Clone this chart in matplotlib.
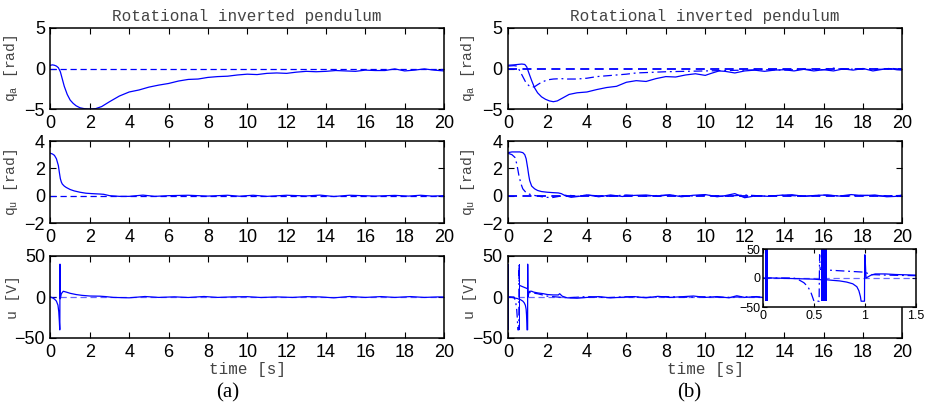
import matplotlib
matplotlib.use("Agg")
import matplotlib.pyplot as plt

# ---------------- data ----------------
# reference (dashed) lines
t_ref = [0, 20]
ref = [0, 0]

# (a) q_a
t_qa_a = [0, 0.1, 0.2, 0.3, 0.4, 0.5, 0.6, 0.7, 0.85, 1.0, 1.15, 1.3, 1.5, 1.7, 1.9, 2.1, 2.3,
          2.6, 3.0, 3.5, 4.0, 4.5, 5.0, 5.5, 6.0, 6.5, 7.0, 7.5, 8.0, 8.5, 9.0, 9.5, 10.0,
          10.5, 11.0, 11.5, 12.0, 12.5, 13.0, 13.5, 14.0, 14.5, 15.0, 15.5, 16.0, 16.5, 17.0,
          17.5, 18.0, 18.5, 19.0, 19.5, 20.0]
qa_a = [0.4, 0.45, 0.4, 0.3, 0.1, -0.4, -1.3, -2.2, -3.2, -3.9, -4.3, -4.6, -4.85, -4.95, -5.0,
        -5.0, -4.95, -4.7, -4.1, -3.4, -2.9, -2.65, -2.3, -2.05, -1.85, -1.55, -1.35, -1.3,
        -1.1, -1.0, -0.95, -0.8, -0.7, -0.75, -0.6, -0.55, -0.6, -0.45, -0.35, -0.4, -0.35,
        -0.25, -0.3, -0.35, -0.2, -0.25, -0.25, -0.05, -0.3, -0.2, -0.05, -0.2, -0.3]

# (a) q_u
t_qu_a = [0, 0.1, 0.2, 0.3, 0.4, 0.45, 0.5, 0.55, 0.6, 0.7, 0.8, 1.0, 1.2, 1.5, 1.8, 2.1, 2.5,
          2.7, 3.0, 3.5, 4.0, 4.7, 5.3, 6.0, 7.0, 8.0, 9.0, 9.6, 10.3, 11.0, 12.0, 13.0, 13.7,
          14.4, 15.2, 16.5, 17.5, 18.2, 18.8, 19.4, 20.0]
qu_a = [3.1, 3.05, 2.95, 2.7, 2.2, 1.7, 1.25, 1.0, 0.85, 0.7, 0.6, 0.45, 0.35, 0.25, 0.18,
        0.15, 0.12, 0.1, 0.0, -0.05, -0.05, 0.04, -0.05, 0.0, 0.03, -0.03, 0.03, -0.04, 0.03,
        -0.05, 0.03, -0.02, 0.04, -0.06, 0.03, -0.03, 0.02, -0.03, 0.03, -0.03, 0.0]

# (a) u
t_u_a = [0, 0.1, 0.2, 0.3, 0.38, 0.42, 0.45, 0.47, 0.475, 0.48, 0.485, 0.5, 0.55, 0.65,
         0.8, 1.0, 1.3, 1.6, 2.0, 2.5, 2.8, 3.2, 4.0, 4.8, 5.5, 6.3, 7.0, 7.8, 8.5, 9.3,
         10.0, 10.7, 11.5, 12.3, 13.0, 13.7, 14.4, 15.2, 16.0, 16.8, 17.5, 18.3, 19.0,
         19.7, 20.0]
u_a = [0, -1, -2.5, -5, -10, -18, -30, -40, -40, 40, 40, -2, 4, 7, 6, 4.5, 3, 2, 1.2,
       1.0, 0.5, -0.5, -1, 0.6, -0.5, 0.2, -0.6, 0.6, -0.5, 0.2, 0.4, -0.6, 0.1, -0.5,
       0.4, 0.1, -1.0, 0.6, -0.5, 0.5, -0.5, 0.5, -0.5, 0.1, 0.0]

# (b) q_a
t_qa_b1 = [0, 0.3, 0.5, 0.7, 0.85, 0.95, 1.05, 1.2, 1.35, 1.5, 1.7, 1.9, 2.1, 2.3, 2.5,
           2.8, 3.1, 3.5, 4.0, 4.5, 5.0, 5.5, 6.0, 6.5, 7.0, 7.5, 8.0, 8.5, 9.0, 9.5, 10.0,
           10.3, 10.7, 11.0, 11.5, 12.0, 12.5, 13.0, 13.5, 14.0, 14.5, 15.0, 15.5, 16.0,
           16.5, 17.0, 17.5, 18.0, 18.5, 19.0, 19.3, 19.7, 20.0]
qa_b1 = [0.4, 0.45, 0.5, 0.55, 0.5, 0.2, -0.5, -1.5, -2.4, -3.0, -3.5, -3.8, -4.0, -4.1,
         -4.0, -3.6, -3.2, -3.0, -2.9, -2.6, -2.35, -2.2, -1.7, -1.5, -1.6, -1.25, -1.0,
         -1.05, -0.8, -0.65, -0.85, -0.6, -0.3, -0.35, -0.55, -0.3, -0.2, -0.35, -0.2,
         -0.15, -0.3, -0.1, -0.3, -0.15, -0.3, -0.05, -0.2, 0.0, -0.3, -0.1, 0.0, -0.15, -0.2]
t_qa_b2 = [0, 0.3, 0.45, 0.6, 0.75, 0.9, 1.05, 1.2, 1.35, 1.5, 1.7, 2.0, 2.3, 2.7, 3.0,
           3.5, 4.0, 4.5, 5.0, 5.5, 6.0, 6.5, 7.0, 7.5, 8.0, 9.0, 10.0, 11.0, 12.0, 13.0,
           14.0, 15.0, 16.0, 16.5, 17.0, 18.0, 19.0, 19.5, 20.0]
qa_b2 = [0.3, 0.35, 0.3, -0.3, -1.0, -1.7, -2.1, -2.3, -2.25, -2.0, -1.7, -1.4, -1.3, -1.25,
         -1.3, -1.3, -1.2, -1.0, -0.9, -0.8, -0.7, -0.55, -0.5, -0.45, -0.4, -0.35, -0.3,
         -0.25, -0.2, -0.15, -0.2, -0.1, -0.15, 0.05, -0.1, -0.05, -0.1, 0.0, -0.1]

# (b) q_u
t_qu_b1 = [0, 0.2, 0.4, 0.6, 0.75, 0.85, 0.92, 1.0, 1.05, 1.1, 1.2, 1.35, 1.5, 1.7, 2.0,
           2.3, 2.55, 2.7, 2.9, 3.2, 3.6, 4.0, 4.6, 5.2, 5.8, 6.4, 7.0, 7.6, 8.2, 8.8, 9.4,
           10.0, 10.6, 11.0, 11.5, 12.0, 12.6, 13.2, 13.8, 14.4, 15.0, 15.6, 16.2, 16.8,
           17.4, 18.0, 18.6, 19.2, 19.7, 20.0]
qu_b1 = [3.15, 3.2, 3.2, 3.2, 3.15, 3.0, 2.7, 2.0, 1.5, 1.1, 0.7, 0.5, 0.38, 0.3, 0.25,
         0.22, 0.2, 0.15, 0.0, -0.12, -0.05, 0.06, -0.08, 0.05, -0.06, 0.02, 0.05, -0.05,
         0.07, -0.08, 0.03, 0.08, -0.08, 0.0, 0.15, -0.15, 0.0, -0.05, 0.03, 0.07, -0.05,
         0.02, 0.05, -0.03, 0.08, 0.0, 0.05, -0.08, -0.05, 0.05]
t_qu_b2 = [0, 0.2, 0.35, 0.45, 0.55, 0.65, 0.75, 0.9, 1.1, 1.4, 1.8, 2.2, 2.6, 3.0, 3.5,
           4.0, 5.0, 6.0, 7.0, 8.0, 9.0, 10.0, 11.0, 12.0, 13.0, 14.0, 15.0, 16.0, 17.0,
           18.0, 19.0, 20.0]
qu_b2 = [3.1, 3.0, 2.8, 2.3, 1.5, 0.9, 0.5, 0.25, 0.1, 0.0, -0.1, -0.15, -0.05, 0.05,
         -0.05, 0.04, -0.05, 0.05, -0.03, 0.04, -0.04, 0.03, -0.05, 0.05, -0.03, 0.03,
         -0.04, 0.04, -0.03, 0.03, -0.03, 0.02]

# (b) u : smooth parts (solid and dash-dot), chattering intervals of the solid trace
t_u_b1 = [0.03, 0.1, 0.2, 0.3, 0.4, 0.5, 0.57, 0.62, 0.68, 0.75, 0.82, 0.88, 0.92, 0.94,
          0.955, 0.962, 0.995, 0.997, 1.0, 1.01, 1.03, 1.06, 1.1, 1.2, 1.3, 1.4, 1.5,
          1.8, 2.0, 2.3, 2.55, 2.62, 2.75, 3.0, 3.5, 4.0, 4.6, 5.2, 5.8, 6.4, 7.0, 7.6,
          8.2, 8.8, 9.4, 10.0, 10.6, 11.2, 11.6, 12.0, 12.6, 13.2, 13.8, 14.4, 15.0, 15.6,
          16.2, 16.8, 17.4, 18.0, 18.6, 19.2, 19.8, 20.0]
u_b1 = [0, 0, -0.5, -1, -1.5, -2, -3, -3, -4, -5, -7, -10, -15, -22, -32, -40, -40, 40,
        40, 0, 2, 5, 7, 7, 6, 5.5, 5, 4, 3, 2.5, 2.5, 4, 1, -1, -1.5, -0.5, 0.5, -1, -0.3,
        0.5, -1, 0.8, -0.5, 0.3, 1.2, -0.5, 0.5, -1, 1.5, -0.5, 0.5, -1.5, 0.3, -0.5,
        0.5, -1, 0.3, -0.5, 0.8, -0.8, 0.3, -0.5, 0.5, 0.0]
t_u_b2 = [0, 0.3, 0.35, 0.4, 0.44, 0.47, 0.49, 0.5, 0.55, 0.555, 0.56, 0.6, 0.7, 0.8,
          0.9, 1.0, 1.05, 1.2, 1.5, 2.0, 2.5, 3.0, 4.0, 5.0, 6.0, 7.0, 8.0, 9.0, 10.0,
          11.0, 12.0, 13.0, 14.0, 15.0, 16.0, 17.0, 18.0, 19.0, 20.0]
u_b2 = [0, 0, -3, -8, -15, -25, -35, -40, -40, 40, 15, 14, 13, 12, 11, 10, 6, 5, 4, 1,
        0, -1, 0.5, -0.8, 0.3, -0.5, 0.5, -0.3, 0.3, -0.5, 0.3, -0.3, 0.3, -0.4, 0.3,
        -0.3, 0.3, -0.3, 0.0]
chatter_intervals = [(0.02, 0.05), (0.57, 0.625)]
chatter_lo, chatter_hi = -40, 40

titles = ["Rotational inverted pendulum", "Rotational inverted pendulum"]
ylabels = [r"$\mathrm{q_a}$ [rad]", r"$\mathrm{q_u}$ [rad]", "u [V]"]
xlabel = "time [s]"
panel_tags = ["(a)", "(b)"]
xticks = [0, 2, 4, 6, 8, 10, 12, 14, 16, 18, 20]
yticks = [[-5, 0, 5], [-2, 0, 2, 4], [-50, 0, 50]]
ylims = [(-5, 5), (-2, 4), (-50, 50)]
inset_xticks = [0, 0.5, 1, 1.5]
inset_xticklabels = ["0", "0.5", "1", "1.5"]
inset_yticks = [-50, 0, 50]

# ---------------- style ----------------
plt.rcParams['mathtext.fontset'] = 'custom'
plt.rcParams['mathtext.rm'] = 'Liberation Mono'
plt.rcParams['mathtext.it'] = 'Liberation Mono'
plt.rcParams['font.family'] = ['Liberation Sans', 'DejaVu Sans']

BLUE = (0, 0, 1)
DASH = (0, (5, 3))
DASHDOT = (0, (7, 3, 1.5, 3))
LW = 0.9

fig = plt.figure(figsize=(9.28, 4.16), dpi=100)

col_x = [50.5 / 928, 508 / 928]
col_w = [393.5 / 928, 394.5 / 928]
rows = [(28, 109), (141, 223), (256, 338)]


def style_ax(ax, fs=13, length=4):
    ax.tick_params(direction='in', top=True, right=True, length=length, width=0.8,
                   labelsize=fs, pad=4, colors='black')
    for s in ax.spines.values():
        s.set_linewidth(1.1)
        s.set_color('black')


axes = [[None] * 3 for _ in range(2)]
for c in range(2):
    for r in range(3):
        top, bot = rows[r]
        ax = fig.add_axes([col_x[c], 1 - bot / 416, col_w[c], (bot - top) / 416])
        ax.set_xlim(0, 20)
        ax.set_ylim(*ylims[r])
        ax.set_xticks(xticks)
        ax.set_yticks(yticks[r])
        style_ax(ax)
        ax.set_ylabel(ylabels[r], family='Liberation Mono', fontsize=10.5, color='#444444')
        ax.yaxis.set_label_coords(-0.078, 0.5)
        axes[c][r] = ax

# (a)
a = axes[0]
a[0].plot(t_qa_a, qa_a, color=BLUE, lw=LW)
a[0].plot(t_ref, ref, color=BLUE, lw=LW, ls=DASH)
a[1].plot(t_qu_a, qu_a, color=BLUE, lw=LW)
a[1].plot(t_ref, ref, color=BLUE, lw=LW, ls=DASH)
a[2].plot(t_ref, ref, color=BLUE, lw=LW, ls=DASH, alpha=0.6)
a[2].plot(t_u_a, u_a, color=BLUE, lw=LW)

# (b)
b = axes[1]
b[0].plot(t_ref, ref, color=BLUE, lw=1.3, ls=DASH)
b[0].plot(t_qa_b2, qa_b2, color=BLUE, lw=LW, ls=DASHDOT)
b[0].plot(t_qa_b1, qa_b1, color=BLUE, lw=LW)
b[1].plot(t_ref, ref, color=BLUE, lw=1.3, ls=DASH)
b[1].plot(t_qu_b2, qu_b2, color=BLUE, lw=LW, ls=DASHDOT)
b[1].plot(t_qu_b1, qu_b1, color=BLUE, lw=LW)


def draw_u_b(ax, hi):
    ax.plot(t_ref, ref, color=BLUE, lw=LW, ls=DASH, alpha=0.6)
    ax.plot(t_u_b2, u_b2, color=BLUE, lw=LW, ls=DASHDOT)
    ax.plot(t_u_b1, u_b1, color=BLUE, lw=LW)
    for (t0, t1) in chatter_intervals:
        ax.fill_between([t0, t1], [chatter_lo, chatter_lo], [hi, hi], color=BLUE, lw=0)


draw_u_b(b[2], chatter_hi)

for c in range(2):
    axes[c][0].set_title(titles[c], family='Liberation Mono', fontsize=11.5,
                         color='#444444', pad=5)
    axes[c][2].set_xlabel(xlabel, family='Liberation Mono', fontsize=11.5,
                          color='#444444', labelpad=1)

fig.text(228 / 928, 1 - 393 / 416, panel_tags[0], family='Liberation Serif', fontsize=15,
         ha='center', va='center')
fig.text(689 / 928, 1 - 393 / 416, panel_tags[1], family='Liberation Serif', fontsize=15,
         ha='center', va='center')

# inset
ins = fig.add_axes([763 / 928, 1 - 307 / 416, 153 / 928, 58 / 416])
ins.set_facecolor('white')
ins.set_xlim(0, 1.5)
ins.set_ylim(-50, 50)
ins.set_xticks(inset_xticks)
ins.set_xticklabels(inset_xticklabels)
ins.set_yticks(inset_yticks)
style_ax(ins, fs=9, length=3)
ins.tick_params(pad=2)
draw_u_b(ins, 50)

fig.savefig("out.png", dpi=100)
